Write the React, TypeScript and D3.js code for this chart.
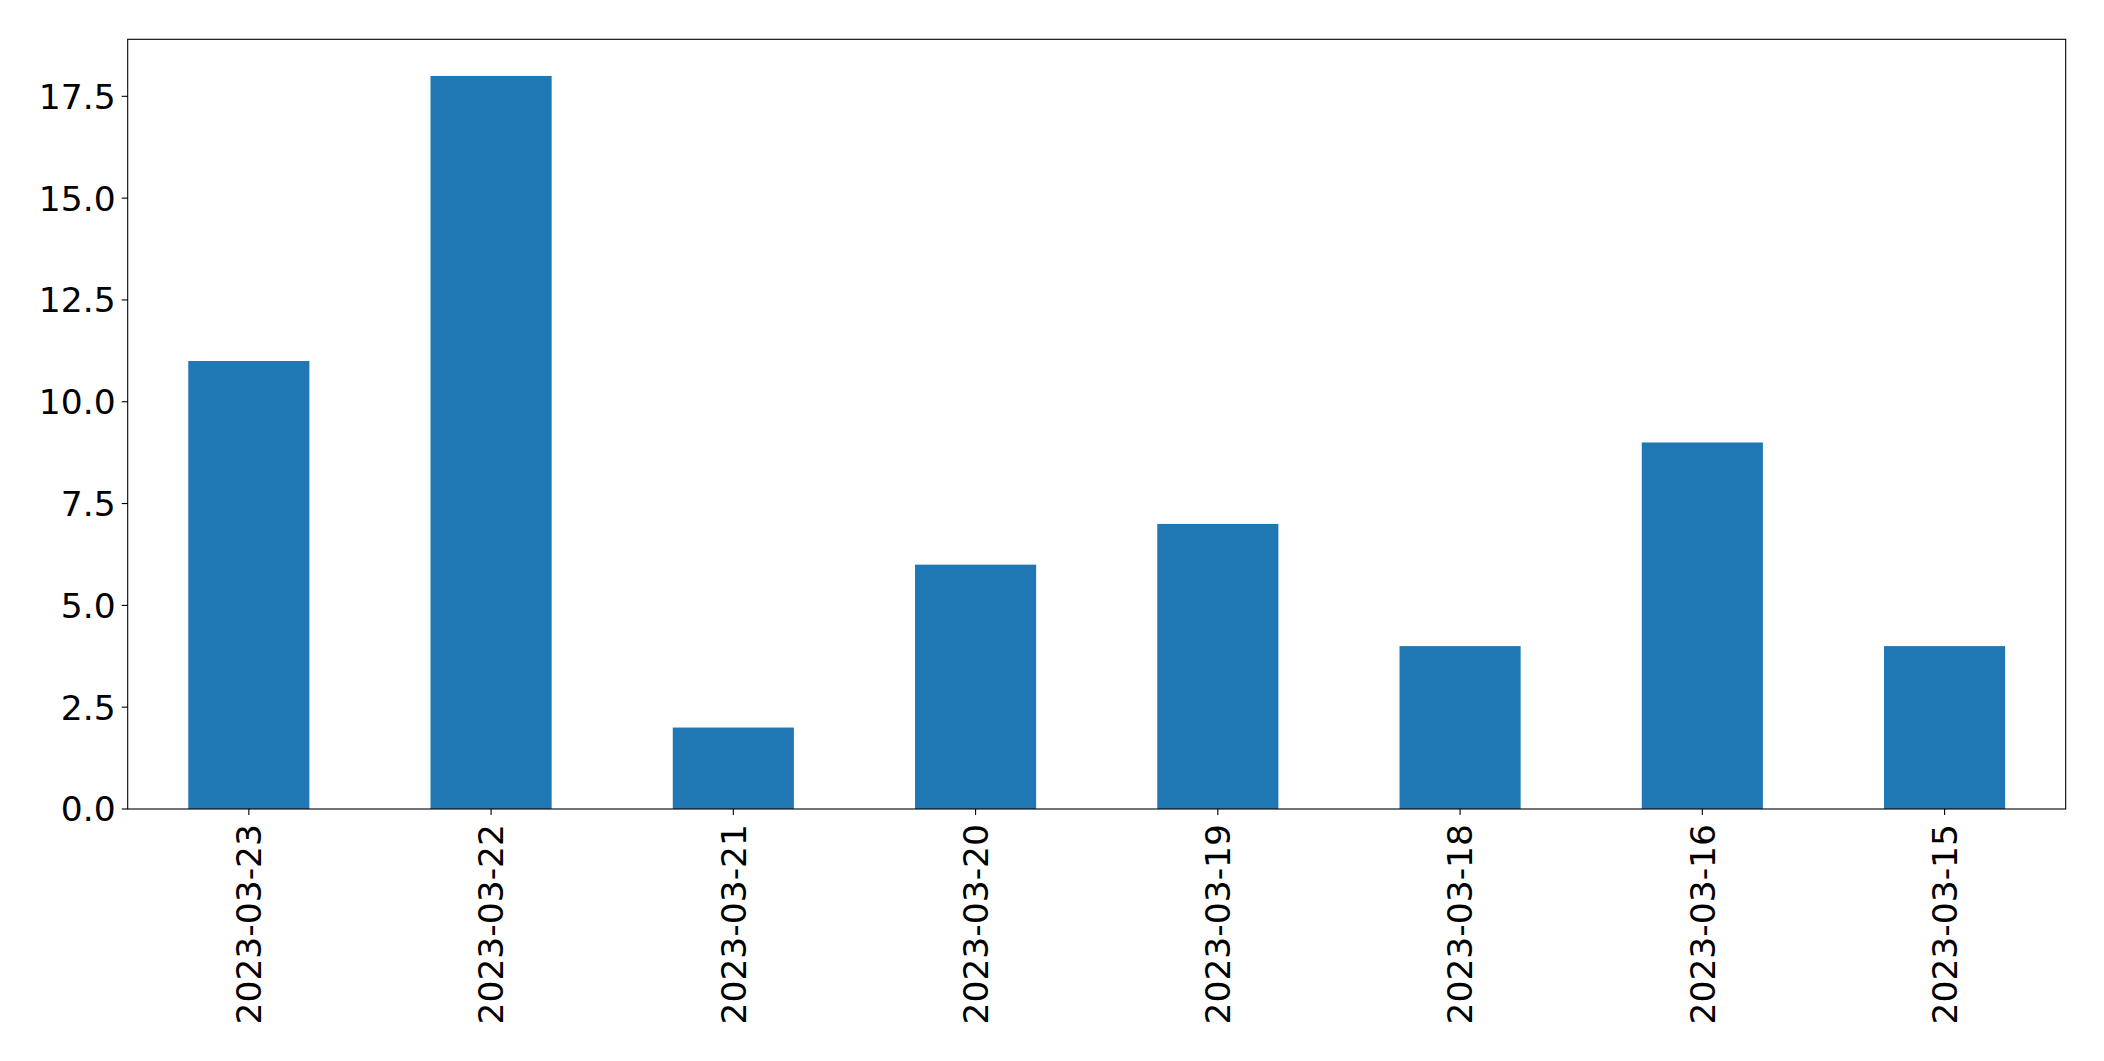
import React from "react";
import * as d3 from "d3";

const categories = ["2023-03-23", "2023-03-22", "2023-03-21", "2023-03-20", "2023-03-19", "2023-03-18", "2023-03-16", "2023-03-15"];
const values = [11, 18, 2, 6, 7, 4, 9, 4];
const yTicks = [0, 2.5, 5, 7.5, 10, 12.5, 15, 17.5];

const W = 2104, H = 1061;
const left = 127.7, right = 2065.7, top = 39.3, bottom = 809;
const FONT = "DejaVu Sans, sans-serif";
const FS = 34.5;

export default function App() {
  const x = d3.scaleLinear().domain([-0.5, categories.length - 0.5]).range([left, right]);
  const yMax = d3.max(values)! * 1.05;
  const y = d3.scaleLinear().domain([0, yMax]).range([bottom, top]);
  const bw = 0.5;
  return (
    <svg width={W} height={H} style={{ position: "absolute", left: 0, top: 0, background: "#fff" }}>
      <rect x={0} y={0} width={W} height={H} fill="#fff" />
      {values.map((v, i) => (
        <rect key={i} x={x(i - bw / 2)} y={y(v)} width={x(i + bw / 2) - x(i - bw / 2)} height={y(0) - y(v)} fill="#1f77b4" />
      ))}
      <rect x={left} y={top} width={right - left} height={bottom - top} fill="none" stroke="#000" strokeWidth={1.1} />
      {yTicks.map((t) => (
        <g key={t}>
          <line x1={left - 6} x2={left} y1={y(t)} y2={y(t)} stroke="#000" strokeWidth={1.1} />
          <text x={left - 12} y={y(t)} dy="0.36em" textAnchor="end" fontFamily={FONT} fontSize={FS} fill="#000">
            {t.toFixed(1)}
          </text>
        </g>
      ))}
      {categories.map((c, i) => (
        <g key={c}>
          <line x1={x(i)} x2={x(i)} y1={bottom} y2={bottom + 6} stroke="#000" strokeWidth={1.1} />
          <text
            transform={`translate(${x(i)},${bottom + 15}) rotate(-90)`}
            textAnchor="end"
            dy="0.36em"
            fontFamily={FONT}
            fontSize={FS}
            fill="#000"
          >
            {c}
          </text>
        </g>
      ))}
    </svg>
  );
}
